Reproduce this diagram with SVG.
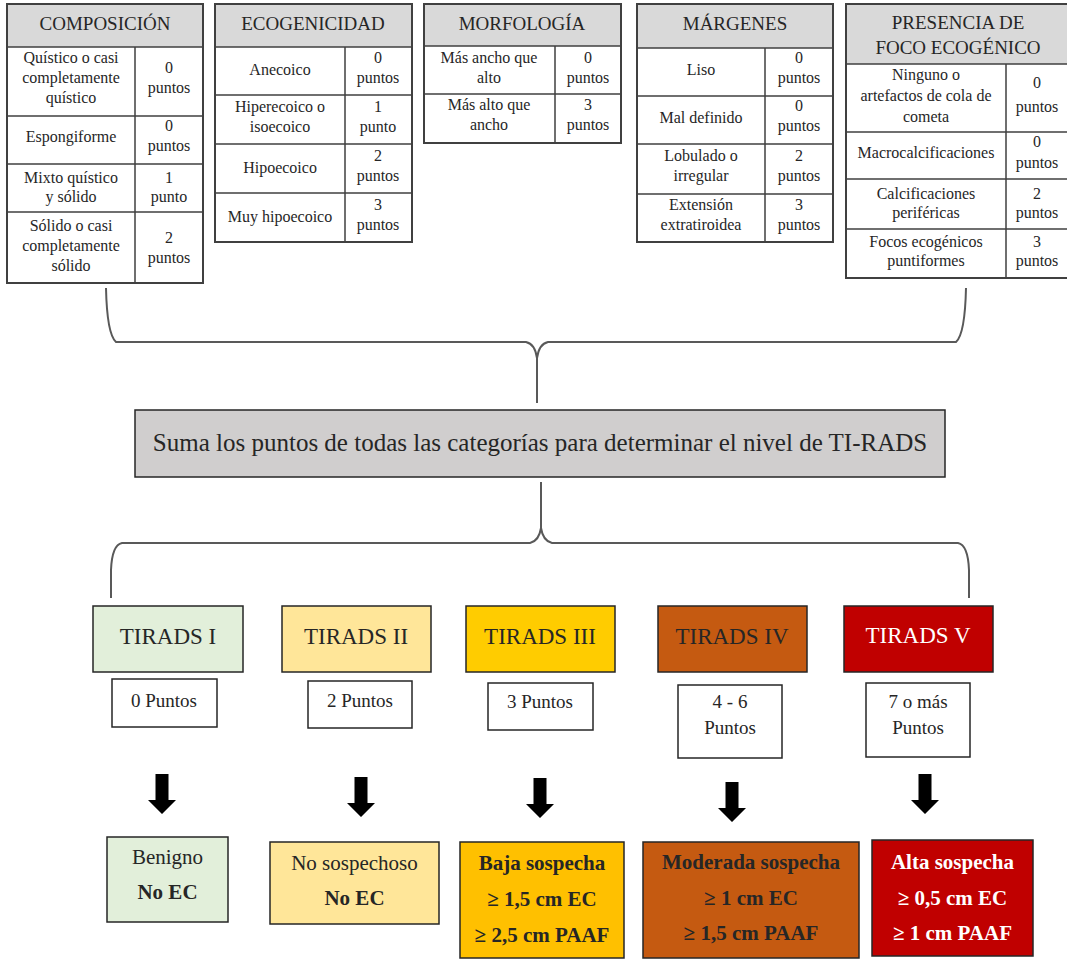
<svg xmlns="http://www.w3.org/2000/svg" width="1067" height="961" viewBox="0 0 1067 961">
<style>
text{font-family:"Liberation Serif","Times New Roman",serif;fill:#262626;text-anchor:middle}
.c{font-size:16px}
.h{font-size:19px}
.m{font-size:25px}
.tl{font-size:23px}
.p{font-size:19px}
.r{font-size:21px}
.b{font-weight:bold}
.w{fill:#ffffff}
.hd{fill:#d9d9d9}
.tb{fill:#ffffff;stroke:#404040;stroke-width:2}
.ln{stroke:#404040;stroke-width:1.5;fill:none}
.bx{stroke:#262626;stroke-width:1.5}
.br{fill:none;stroke:#595959;stroke-width:2}
.ar{fill:#000000}
</style>
<defs>
<path id="arrow" d="M-6.5,0 H6.5 V26 H14 L0,40 L-14,26 H-6.5 Z"/>
</defs>
<rect width="1067" height="961" fill="#ffffff"/>

<g id="tabla-composicion">
<rect class="tb" x="7" y="4" width="196" height="279"/>
<rect class="hd" x="8" y="5" width="194" height="42"/>
<path class="ln" d="M7,47 H203 M135,47 V283 M7,116 H203 M7,164 H203 M7,212 H203"/>
<text class="h" x="105" y="30">COMPOSICIÓN</text>
<text class="c" x="71" y="63">Quístico o casi</text>
<text class="c" x="71" y="83">completamente</text>
<text class="c" x="71" y="103">quístico</text>
<text class="c" x="169" y="73">0</text>
<text class="c" x="169" y="93">puntos</text>
<text class="c" x="71" y="142">Espongiforme</text>
<text class="c" x="169" y="131">0</text>
<text class="c" x="169" y="151">puntos</text>
<text class="c" x="71" y="183">Mixto quístico</text>
<text class="c" x="71" y="202">y sólido</text>
<text class="c" x="169" y="183">1</text>
<text class="c" x="169" y="202">punto</text>
<text class="c" x="71" y="231">Sólido o casi</text>
<text class="c" x="71" y="251">completamente</text>
<text class="c" x="71" y="271">sólido</text>
<text class="c" x="169" y="243">2</text>
<text class="c" x="169" y="263">puntos</text>
</g>

<g id="tabla-ecogenicidad">
<rect class="tb" x="215" y="4" width="197" height="238"/>
<rect class="hd" x="216" y="5" width="195" height="42"/>
<path class="ln" d="M215,47 H412 M345,47 V242 M215,95 H412 M215,144 H412 M215,193 H412"/>
<text class="h" x="313" y="30">ECOGENICIDAD</text>
<text class="c" x="280" y="75">Anecoico</text>
<text class="c" x="378" y="63">0</text>
<text class="c" x="378" y="83">puntos</text>
<text class="c" x="280" y="112">Hiperecoico o</text>
<text class="c" x="280" y="132">isoecoico</text>
<text class="c" x="378" y="112">1</text>
<text class="c" x="378" y="132">punto</text>
<text class="c" x="280" y="173">Hipoecoico</text>
<text class="c" x="378" y="161">2</text>
<text class="c" x="378" y="181">puntos</text>
<text class="c" x="280" y="222">Muy hipoecoico</text>
<text class="c" x="378" y="210">3</text>
<text class="c" x="378" y="230">puntos</text>
</g>

<g id="tabla-morfologia">
<rect class="tb" x="424" y="4" width="197" height="139"/>
<rect class="hd" x="425" y="5" width="195" height="41"/>
<path class="ln" d="M424,46 H621 M555,46 V143 M424,94 H621"/>
<text class="h" x="522" y="30">MORFOLOGÍA</text>
<text class="c" x="489" y="63">Más ancho que</text>
<text class="c" x="489" y="83">alto</text>
<text class="c" x="588" y="63">0</text>
<text class="c" x="588" y="83">puntos</text>
<text class="c" x="489" y="110">Más alto que</text>
<text class="c" x="489" y="130">ancho</text>
<text class="c" x="588" y="110">3</text>
<text class="c" x="588" y="130">puntos</text>
</g>

<g id="tabla-margenes">
<rect class="tb" x="637" y="4" width="196" height="238"/>
<rect class="hd" x="638" y="5" width="194" height="43"/>
<path class="ln" d="M637,48 H833 M765,48 V242 M637,96 H833 M637,144 H833 M637,194 H833"/>
<text class="h" x="735" y="30">MÁRGENES</text>
<text class="c" x="701" y="75">Liso</text>
<text class="c" x="799" y="63">0</text>
<text class="c" x="799" y="83">puntos</text>
<text class="c" x="701" y="123">Mal definido</text>
<text class="c" x="799" y="111">0</text>
<text class="c" x="799" y="131">puntos</text>
<text class="c" x="701" y="161">Lobulado o</text>
<text class="c" x="701" y="181">irregular</text>
<text class="c" x="799" y="161">2</text>
<text class="c" x="799" y="181">puntos</text>
<text class="c" x="701" y="210">Extensión</text>
<text class="c" x="701" y="230">extratiroidea</text>
<text class="c" x="799" y="210">3</text>
<text class="c" x="799" y="230">puntos</text>
</g>

<g id="tabla-foco">
<rect class="tb" x="846" y="4" width="224" height="274"/>
<rect class="hd" x="847" y="5" width="222" height="59"/>
<path class="ln" d="M846,64 H1070 M1006,64 V278 M846,132 H1070 M846,179 H1070 M846,229 H1070"/>
<text class="h" x="958" y="29">PRESENCIA DE</text>
<text class="h" x="958" y="54">FOCO ECOGÉNICO</text>
<text class="c" x="926" y="80">Ninguno o</text>
<text class="c" x="926" y="101">artefactos de cola de</text>
<text class="c" x="926" y="122">cometa</text>
<text class="c" x="1037" y="88">0</text>
<text class="c" x="1037" y="112">puntos</text>
<text class="c" x="926" y="158">Macrocalcificaciones</text>
<text class="c" x="1037" y="147">0</text>
<text class="c" x="1037" y="168">puntos</text>
<text class="c" x="926" y="199">Calcificaciones</text>
<text class="c" x="926" y="218">periféricas</text>
<text class="c" x="1037" y="199">2</text>
<text class="c" x="1037" y="218">puntos</text>
<text class="c" x="926" y="247">Focos ecogénicos</text>
<text class="c" x="926" y="266">puntiformes</text>
<text class="c" x="1037" y="247">3</text>
<text class="c" x="1037" y="266">puntos</text>
</g>

<g id="suma">
<rect class="bx" x="135" y="410" width="810" height="67" fill="#d0cece"/>
<text class="m" x="540" y="451">Suma los puntos de todas las categorías para determinar el nivel de TI-RADS</text>
</g>

<g id="tirads-1">
<rect class="bx" x="93" y="606" width="150" height="66" fill="#e2efda"/>
<text class="tl" x="168" y="644">TIRADS I</text>
</g>
<g id="tirads-2">
<rect class="bx" x="282" y="606" width="149" height="66" fill="#ffe699"/>
<text class="tl" x="356" y="644">TIRADS II</text>
</g>
<g id="tirads-3">
<rect class="bx" x="466" y="606" width="149" height="66" fill="#ffcc00"/>
<text class="tl" x="540" y="644">TIRADS III</text>
</g>
<g id="tirads-4">
<rect class="bx" x="658" y="606" width="149" height="66" fill="#c55a11"/>
<text class="tl" x="732" y="644">TIRADS IV</text>
</g>
<g id="tirads-5">
<rect class="bx" x="844" y="606" width="149" height="66" fill="#c00000"/>
<text class="tl w" x="918" y="643">TIRADS V</text>
</g>

<g id="puntos-1">
<rect class="bx" x="112" y="679" width="105" height="48" fill="#ffffff"/>
<text class="p" x="164" y="707">0 Puntos</text>
</g>
<g id="puntos-2">
<rect class="bx" x="308" y="681" width="104" height="47" fill="#ffffff"/>
<text class="p" x="360" y="707">2 Puntos</text>
</g>
<g id="puntos-3">
<rect class="bx" x="488" y="683" width="105" height="47" fill="#ffffff"/>
<text class="p" x="540" y="708">3 Puntos</text>
</g>
<g id="puntos-4">
<rect class="bx" x="678" y="685" width="104" height="73" fill="#ffffff"/>
<text class="p" x="730" y="708">4 - 6</text>
<text class="p" x="730" y="734">Puntos</text>
</g>
<g id="puntos-5">
<rect class="bx" x="866" y="683" width="104" height="74" fill="#ffffff"/>
<text class="p" x="918" y="708">7 o más</text>
<text class="p" x="918" y="734">Puntos</text>
</g>

<g id="resultado-1">
<rect class="bx" x="107" y="837" width="121" height="85" fill="#e2efda"/>
<text class="r" x="167.5" y="864">Benigno</text>
<text class="r b" x="167.5" y="899">No EC</text>
</g>
<g id="resultado-2">
<rect class="bx" x="270" y="842" width="169" height="82" fill="#ffe699"/>
<text class="r" x="354.5" y="870">No sospechoso</text>
<text class="r b" x="354.5" y="905">No EC</text>
</g>
<g id="resultado-3">
<rect class="bx" x="460" y="842" width="164" height="116" fill="#ffc000"/>
<text class="r b" x="542" y="870">Baja sospecha</text>
<text class="r b" x="542" y="906">≥ 1,5 cm EC</text>
<text class="r b" x="542" y="942">≥ 2,5 cm PAAF</text>
</g>
<g id="resultado-4">
<rect class="bx" x="643" y="842" width="216" height="116" fill="#c55a11"/>
<text class="r b" x="751" y="869">Moderada sospecha</text>
<text class="r b" x="751" y="905">≥ 1 cm EC</text>
<text class="r b" x="751" y="940">≥ 1,5 cm PAAF</text>
</g>
<g id="resultado-5">
<rect class="bx" x="872" y="840" width="161" height="116" fill="#c00000"/>
<text class="r b w" x="952.5" y="869">Alta sospecha</text>
<text class="r b w" x="952.5" y="905">≥ 0,5 cm EC</text>
<text class="r b w" x="952.5" y="940">≥ 1 cm PAAF</text>
</g>

<g id="conectores">
<path class="br" d="M106,288 Q107,334 116,342 H526 Q535,344 537,358 V403"/>
<path class="br" d="M966,288 Q965,334 956,342 H548 Q539,344 537,358"/>
<path class="br" d="M541,482 V528 Q539,541 530,543 H122 Q112,545 111,570 V598"/>
<path class="br" d="M541,528 Q543,541 552,543 H958 Q968,545 969,570 V598"/>
<use href="#arrow" class="ar" x="162" y="774"/>
<use href="#arrow" class="ar" x="361" y="777"/>
<use href="#arrow" class="ar" x="540" y="778"/>
<use href="#arrow" class="ar" x="732" y="782"/>
<use href="#arrow" class="ar" x="925" y="774"/>
</g>
</svg>
